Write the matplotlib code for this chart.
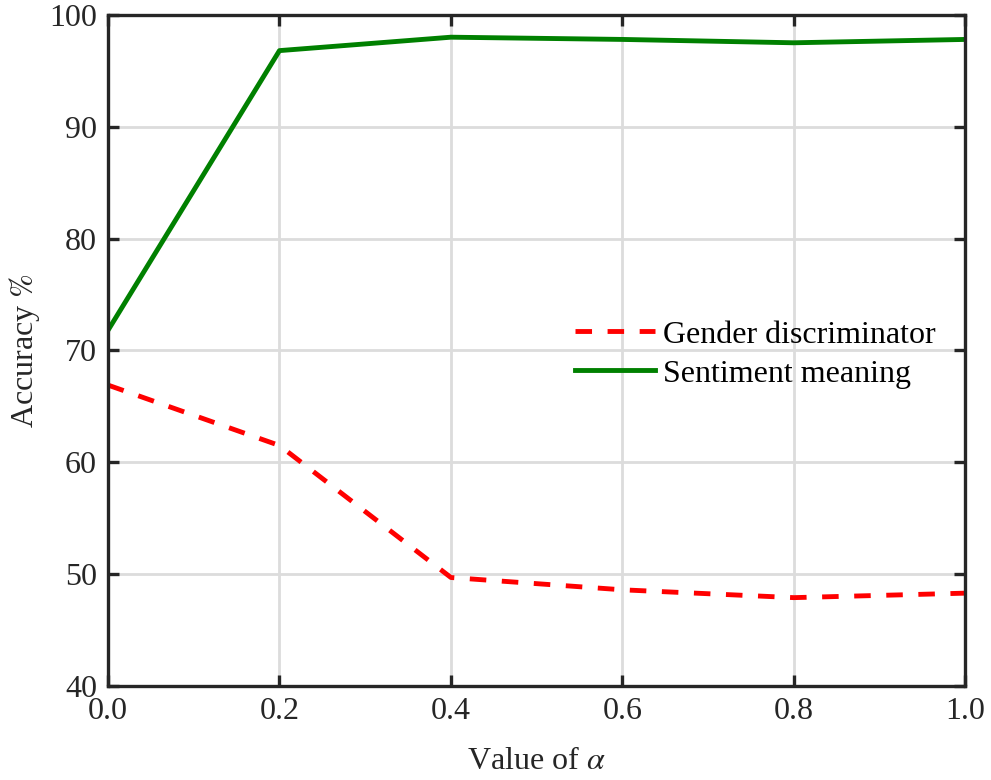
import matplotlib
matplotlib.use("Agg")
import matplotlib.pyplot as plt

# ===================== Data =====================
alpha = [0.0, 0.2, 0.4, 0.6, 0.8, 1.0]
gender_acc = [66.9, 61.5, 49.7, 48.6, 47.9, 48.3]
sentiment_acc = [71.8, 96.8, 98.0, 97.8, 97.5, 97.8]

x_ticks = [0.0, 0.2, 0.4, 0.6, 0.8, 1.0]
y_ticks = [40, 50, 60, 70, 80, 90, 100]

# ===================== Style =====================
plt.rcParams["font.family"] = ["Liberation Serif", "DejaVu Serif"]
plt.rcParams["mathtext.fontset"] = "stix"
fs = 23

fig = plt.figure(figsize=(9.91, 7.8), dpi=100)
ax = fig.add_axes([0.109, 0.1205, 0.865, 0.8605])

ax.plot(alpha, gender_acc, color="red", linestyle=(0, (3.4, 3.2)),
        linewidth=3.5, label="Gender discriminator")
ax.plot(alpha, sentiment_acc, color="green", linewidth=3.5,
        label="Sentiment meaning")

ax.set_xlim(0, 1)
ax.set_ylim(40, 100)
ax.set_xticks(x_ticks)
ax.set_xticklabels([f"{v:.1f}" for v in x_ticks])
ax.set_yticks(y_ticks)

ax.grid(True, color="#dcdcdc", linewidth=2.0)
ax.set_axisbelow(True)
for sp in ax.spines.values():
    sp.set_linewidth(2.4)
    sp.set_color("#262626")
ax.tick_params(direction="in", length=8, width=2.4, color="#262626",
               top=True, right=True, labelsize=fs, labelcolor="#262626", pad=8)

ax.set_xlabel(r"Value of $\alpha$", fontsize=fs, labelpad=15, color="#262626")
ax.set_ylabel(r"Accuracy $\%$", fontsize=fs, labelpad=5, color="#262626")

ax.legend(loc="upper left", bbox_to_anchor=(0.545, 0.545), frameon=False,
          fontsize=fs, handlelength=2.5, handletextpad=0.25,
          labelspacing=0.3, borderpad=0, borderaxespad=0)

fig.savefig("out.png", dpi=100)
